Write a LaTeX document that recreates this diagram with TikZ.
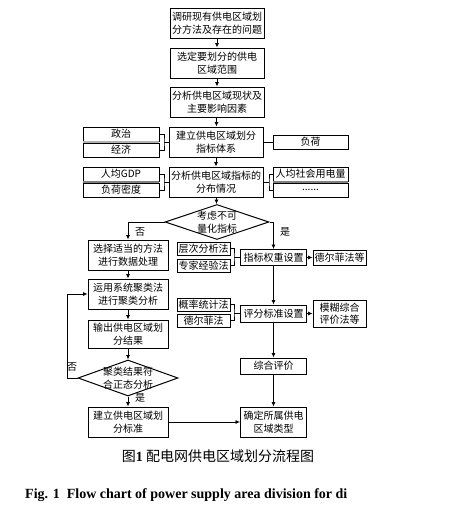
\documentclass[tikz,border=0pt]{standalone}
\usepackage{fontspec}
\setmainfont{Liberation Serif}
\newfontfamily\cjk{Noto Sans CJK SC}
\usetikzlibrary{shapes.geometric,arrows.meta}

\begin{document}
\begin{tikzpicture}[x=1pt,y=-1pt,
    box/.style={draw,line width=0.9pt,align=center,inner sep=1pt,font=\cjk\fontsize{10}{12.5}\selectfont},
    mainbox/.style={box,minimum width=94pt,minimum height=30pt},
    leftbox/.style={box,minimum width=80pt,minimum height=30pt},
    sidebox/.style={box,minimum width=76pt,minimum height=14pt},
    methbox/.style={box,minimum width=53pt,minimum height=13pt},
    midbox/.style={box,minimum width=66pt,minimum height=16pt},
    cond/.style={draw,diamond,line width=1pt,align=center,inner xsep=-4pt,inner ysep=-2pt,aspect=3,font=\cjk\fontsize{10}{12.5}\selectfont},
    tag/.style={font=\cjk\fontsize{10}{12}\selectfont,inner sep=0pt},
    arr/.style={line width=0.8pt,-{Latex[length=4.5pt,width=4pt]}},
    lnk/.style={line width=0.8pt},
    band/.style={fill=gray}]
\useasboundingbox (0,0) rectangle (469,508);
% main column
\node (b1) at (217,23) [mainbox] {调研现有供电区域划\\分方法及存在的问题};
\node (b2) at (217,63) [mainbox] {选定要划分的供电\\区域范围};
\node (b3) at (217,102) [mainbox] {分析供电区域现状及\\主要影响因素};
\node (b4) at (216,142) [mainbox] {建立供电区域划分\\指标体系};
\node (b5) at (216,182) [mainbox] {分析供电区域指标的\\分布情况};
\node (d1) at (217,222) [cond,minimum width=104pt,minimum height=35pt] {考虑不可\\量化指标};
% factors beside
\node (zz) at (121,134) [sidebox] {政治};
\node (jj) at (121,150) [sidebox] {经济};
\node (gdp) at (121,174) [sidebox] {人均GDP};
\node (md) at (121,190) [sidebox] {负荷密度};
\node (fh) at (310.5,142) [sidebox,minimum width=75pt] {负荷};
\node (rj) at (310.5,174) [sidebox,minimum width=75pt] {人均社会用电量};
\node (dots) at (310.5,190) [sidebox,minimum width=75pt] {......};
% gray strips between stacked boxes
\fill[band,gray!60] (zz.south west) rectangle (jj.north east);
\fill[band] (gdp.south west) rectangle (md.north east);
\fill[band] (rj.south west) rectangle (dots.north east);
% left column
\node (sel) at (128,255) [leftbox] {选择适当的方法\\进行数据处理};
\node (jl) at (128,294) [leftbox] {运用系统聚类法\\进行聚类分析};
\node (sc) at (128,334) [leftbox,minimum height=28pt] {输出供电区域划\\分结果};
\node (d2) at (128,378) [cond,minimum width=100pt,minimum height=36pt] {聚类结果符\\合正态分析};
\node (bz) at (128,422) [leftbox] {建立供电区域划\\分标准};
% right column
\node (cc) at (203.5,248.5) [methbox] {层次分析法};
\node (zj) at (203.5,265.5) [methbox] {专家经验法};
\node (qz) at (273.5,257.5) [midbox] {指标权重设置};
\node (df) at (339.5,257.5) [methbox,minimum height=15pt] {德尔菲法等};
\node (gl) at (203.5,304.5) [methbox] {概率统计法};
\node (de) at (203.5,320.5) [methbox] {德尔菲法};
\node (pf) at (273.5,313.5) [midbox,minimum height=17pt] {评分标准设置};
\node (mh) at (339.5,313.5) [methbox,minimum height=27pt] {模糊综合\\评价法等};
\node (zh) at (273.5,366) [midbox] {综合评价};
\node (qd) at (273.5,422) [midbox,minimum height=30pt] {确定所属供电\\区域类型};
% branch labels
\node (no1) at (140,232) [tag] {否};
\node (yes1) at (285,232) [tag] {是};
\node (no2) at (72,367) [tag] {否};
\node (yes2) at (140,398) [tag] {是};
% main arrows
\draw[arr] (b1) -- (b2);
\draw[arr] (b2) -- (b3);
\draw[arr] (b3) -- (b4);
\draw[arr] (b4) -- (b5);
\draw[arr] (b5) -- (d1);
% brackets
\coordinate (k1) at (164,142);
\draw[lnk] (zz.east) -| (k1) |- (jj.east);
\draw[lnk] (k1) -- (b4.west);
\coordinate (k2) at (164,182);
\draw[lnk] (gdp.east) -| (k2) |- (md.east);
\draw[lnk] (k2) -- (b5.west);
\draw[lnk] (b4.east) -- (fh.west);
\coordinate (k3) at (269,182);
\draw[lnk] (rj.west) -| (k3) |- (dots.west);
\draw[lnk] (b5.east) -- (k3);
\coordinate (k4) at (234,257.5);
\draw[lnk] (cc.east) -| (k4) |- (zj.east);
\draw[lnk] (k4) -- (qz.west);
\coordinate (k5) at (234,313.5);
\draw[lnk] (gl.east) -| (k5) |- (de.east);
\draw[lnk] (k5) -- (pf.west);
% decision branches
\draw[arr] (d1.west) -| (sel.north);
\draw[arr] (d1.east) -| (qz.north);
\draw[arr] (sel) -- (jl);
\draw[arr] (jl) -- (sc);
\draw[arr] (sc) -- (d2);
\draw[arr] (d2) -- (bz);
\draw[arr] (d2.west) -- ++(-10,0) |- (jl.west);
\draw[arr] (bz) -- (qd);
\draw[arr] (qz) -- (df);
\draw[arr] (qz) -- (pf);
\draw[arr] (pf) -- (mh);
\draw[arr] (pf) -- (zh);
\draw[arr] (zh) -- (qd);
% captions
\node (cap) at (218,456) [font=\cjk\fontsize{14}{16}\selectfont] {图\textbf{\rmfamily 1}\ 配电网供电区域划分流程图};
\node (capen) at (25,495) [anchor=west,inner sep=0pt,font=\bfseries\fontsize{14}{16}\selectfont] {Fig. 1\ \ Flow chart of power supply area division for di};
\end{tikzpicture}
\end{document}
